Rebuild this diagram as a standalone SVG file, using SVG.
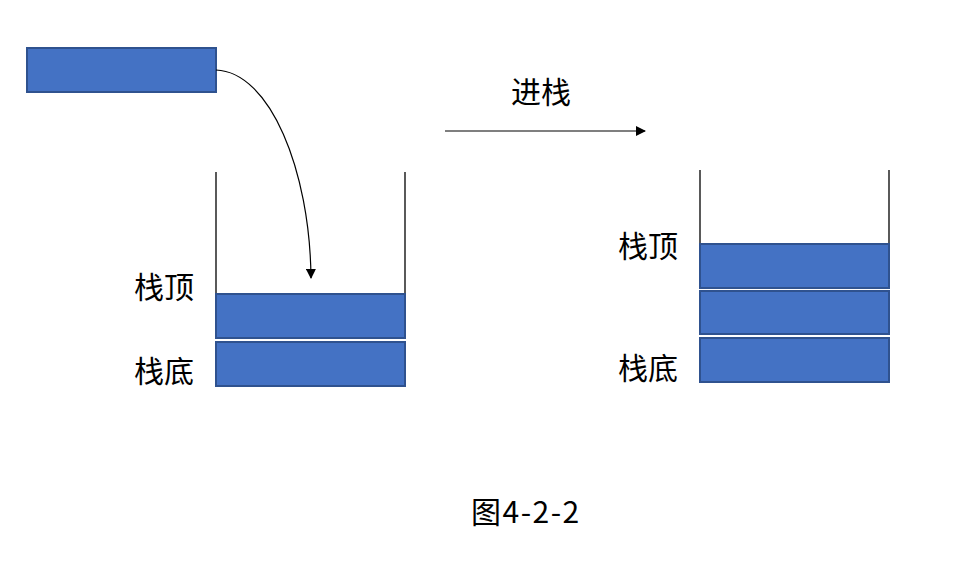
<svg xmlns="http://www.w3.org/2000/svg" width="980" height="570" viewBox="0 0 980 570">
<style>
.blk{fill:#4472C4;stroke:#2F528F;stroke-width:2}
.wall{stroke:#000;stroke-width:1.3;fill:none}
.lbl{font-family:"Noto Sans CJK SC","Noto Sans",sans-serif;font-size:30px;fill:#000}
.con{stroke:#000;stroke-width:1.2;fill:none}
</style>
<defs>
<marker id="ah" markerWidth="10" markerHeight="10" refX="9" refY="5" orient="auto" markerUnits="userSpaceOnUse">
<path d="M0,0 L10,5 L0,10 Z" fill="#000"/>
</marker>
</defs>
<g id="moving-block"><rect class="blk" x="27" y="48" width="189" height="44"/></g>
<g id="left-stack">
<line class="wall" x1="216" y1="172" x2="216" y2="294"/>
<line class="wall" x1="405" y1="172" x2="405" y2="294"/>
<rect class="blk" x="216" y="294" width="189" height="44"/>
<rect class="blk" x="216" y="342" width="189" height="44"/>
<text class="lbl" x="134" y="298">栈顶</text>
<text class="lbl" x="134" y="382">栈底</text>
</g>
<g id="right-stack">
<line class="wall" x1="700" y1="170" x2="700" y2="244"/>
<line class="wall" x1="889" y1="170" x2="889" y2="244"/>
<rect class="blk" x="700" y="244" width="189" height="44"/>
<rect class="blk" x="700" y="291" width="189" height="43"/>
<rect class="blk" x="700" y="338" width="189" height="44"/>
<text class="lbl" x="618" y="257">栈顶</text>
<text class="lbl" x="618" y="379">栈底</text>
</g>
<g id="connectors">
<path class="con" d="M216,70 C270,72 310,170 311,278" marker-end="url(#ah)"/>
<line class="con" x1="445" y1="131" x2="645" y2="131" marker-end="url(#ah)"/>
</g>
<g id="labels">
<text class="lbl" x="511" y="103">进栈</text>
<text class="lbl" x="471" y="523" letter-spacing="1.5">图4-2-2</text>
</g>
</svg>
